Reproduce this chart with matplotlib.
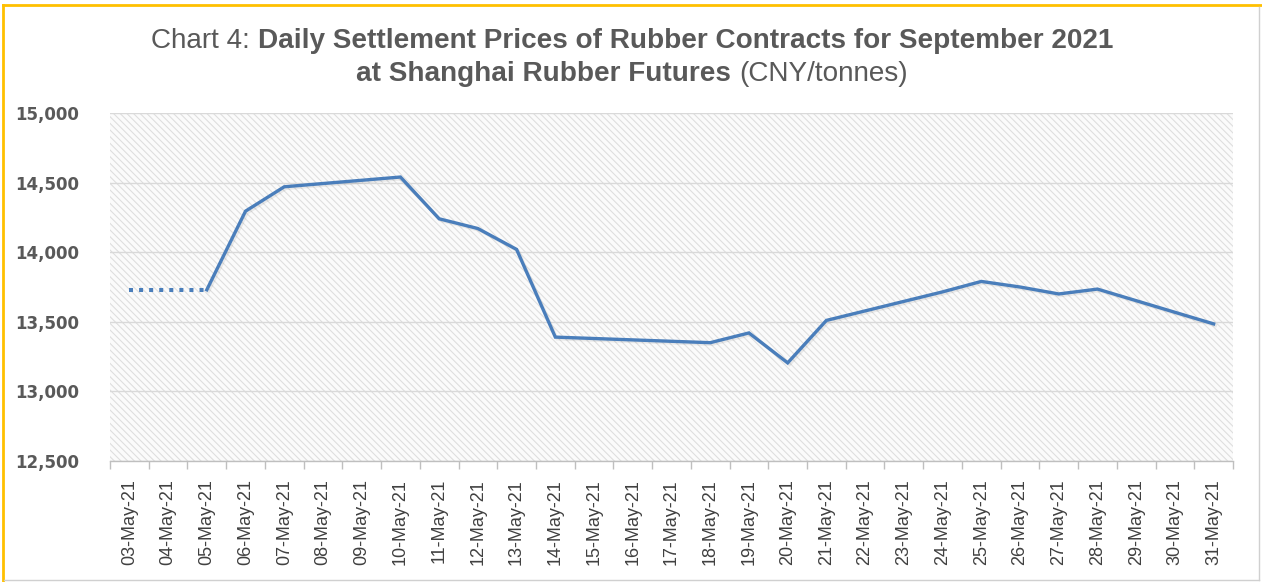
import matplotlib.pyplot as plt
from matplotlib.patches import Rectangle
from matplotlib.lines import Line2D
import matplotlib.patheffects as pe
import numpy as np

# Data (CNY/tonnes); None = weekend, no trading
days = ['03-May-21', '04-May-21', '05-May-21', '06-May-21', '07-May-21', '08-May-21',
        '09-May-21', '10-May-21', '11-May-21', '12-May-21', '13-May-21', '14-May-21',
        '15-May-21', '16-May-21', '17-May-21', '18-May-21', '19-May-21', '20-May-21',
        '21-May-21', '22-May-21', '23-May-21', '24-May-21', '25-May-21', '26-May-21',
        '27-May-21', '28-May-21', '29-May-21', '30-May-21', '31-May-21']
prices = [13730, 13730, 13730, 14295, 14470, None,
          None, 14540, 14240, 14170, 14020, 13390,
          None, None, 13360, 13350, 13420, 13205,
          13510, None, None, 13715, 13790, 13750,
          13700, 13735, None, None, 13485]
# Labour Day holiday: price carried over, shown dotted
holiday = ['03-May-21', '04-May-21', '05-May-21']

yticks = [12500, 13000, 13500, 14000, 14500, 15000]

W, H = 1262, 582
fig = plt.figure(figsize=(W / 100, H / 100), dpi=100)
fig.patch.set_facecolor('white')

ax = fig.add_axes([110 / W, 1 - 461 / H, 1123 / W, 348 / H])

line_color = '#4a7ebb'
grid_color = '#d9d9d9'
label_color = '#595959'

# hatched plot background
plt.rcParams['hatch.linewidth'] = 0.8
ax.add_patch(Rectangle((0, 0), 1, 1, transform=ax.transAxes, facecolor='#fbfbfb',
                       edgecolor='#dedede', hatch='\\\\\\\\\\', linewidth=0, zorder=0))

x_all = np.arange(len(days))
traded = [(i, p) for i, p in enumerate(prices) if p is not None]
hol_idx = [days.index(d) for d in holiday]

# dotted holiday part
ax.plot(hol_idx, [prices[i] for i in hol_idx], color=line_color, lw=2.9,
        linestyle=(0, (1.0, 1.5)), zorder=3)

# solid part from last holiday day onward
solid = [(i, p) for i, p in traded if i >= hol_idx[-1]]
ax.plot([i for i, _ in solid], [p for _, p in solid], color=line_color, lw=2.4,
        solid_joinstyle='miter', zorder=3,
        path_effects=[pe.SimpleLineShadow(offset=(1.2, -1.2), alpha=0.07, shadow_color='black'),
                      pe.Normal()])

ax.set_xlim(-0.5, len(days) - 0.5)
ax.set_ylim(yticks[0], yticks[-1])
ax.set_yticks(yticks)
ax.set_yticklabels([f'{v:,}' for v in yticks])
ax.set_xticks(x_all)
ax.set_xticklabels(days, rotation=90)
ax.set_xticks(np.arange(-0.5, len(days), 1.0), minor=True)

ax.yaxis.grid(True, color=grid_color, lw=1.0, zorder=1)
ax.set_axisbelow(True)
for s in ['top', 'right', 'left']:
    ax.spines[s].set_visible(False)
ax.spines['bottom'].set_color('#bfbfbf')
ax.spines['bottom'].set_linewidth(1.0)

ax.tick_params(axis='x', which='major', length=0, pad=13, labelsize=13,
               labelcolor='#404040')
ax.tick_params(axis='x', which='minor', length=6, color='#bfbfbf', width=1.0)
ax.tick_params(axis='y', length=0, pad=22, labelcolor=label_color)
for t in ax.get_yticklabels():
    t.set_fontweight('bold')
    t.set_fontsize(12)
for t in ax.get_xticklabels():
    t.set_family(['Liberation Sans', 'DejaVu Sans'])

# title, mixed weights, centred
title_font = ['Liberation Sans Narrow', 'Liberation Sans', 'DejaVu Sans']
title_color = '#595959'
fig.canvas.draw()
renderer = fig.canvas.get_renderer()


def text_width(s, size, weight):
    t = fig.text(0, 0, s, fontsize=size, fontweight=weight, family=title_font)
    w = t.get_window_extent(renderer).width
    t.remove()
    return w


def title_line(parts, y, size):
    gap = text_width('x x', size, 'bold') - text_width('xx', size, 'bold')
    widths = [text_width(s, size, w) for s, w in parts]
    total = sum(widths) + gap * (len(parts) - 1)
    x0 = W / 2 + 1 - total / 2
    for (s, w), wd in zip(parts, widths):
        fig.text(x0 / W, y, s, fontsize=size, fontweight=w, color=title_color,
                 family=title_font, ha='left', va='center')
        x0 += wd + gap


line1 = [('Chart 4:', 'normal'),
         ('Daily Settlement Prices of Rubber Contracts for September 2021', 'bold')]
line2 = [('at Shanghai Rubber Futures', 'bold'), ('(CNY/tonnes)', 'normal')]

base = 16
w1 = sum(text_width(s, base, w) for s, w in line1)
size = base * 950 / w1
title_line(line1, 1 - 41 / H, size)
title_line(line2, 1 - 74 / H, size)

# frame around the chart
fig.add_artist(Line2D([3 / W, 3 / W], [0, 1 - 5 / H], color='#ffc000', lw=2))
fig.add_artist(Line2D([3 / W, 1], [1 - 5 / H, 1 - 5 / H], color='#ffc000', lw=2))
fig.add_artist(Line2D([1259 / W, 1259 / W], [2 / H, 1 - 7 / H], color='#d0d0d0', lw=1))
fig.add_artist(Line2D([4 / W, 1259 / W], [2 / H, 2 / H], color='#d0d0d0', lw=1))

fig.savefig('out.png', dpi=100)
